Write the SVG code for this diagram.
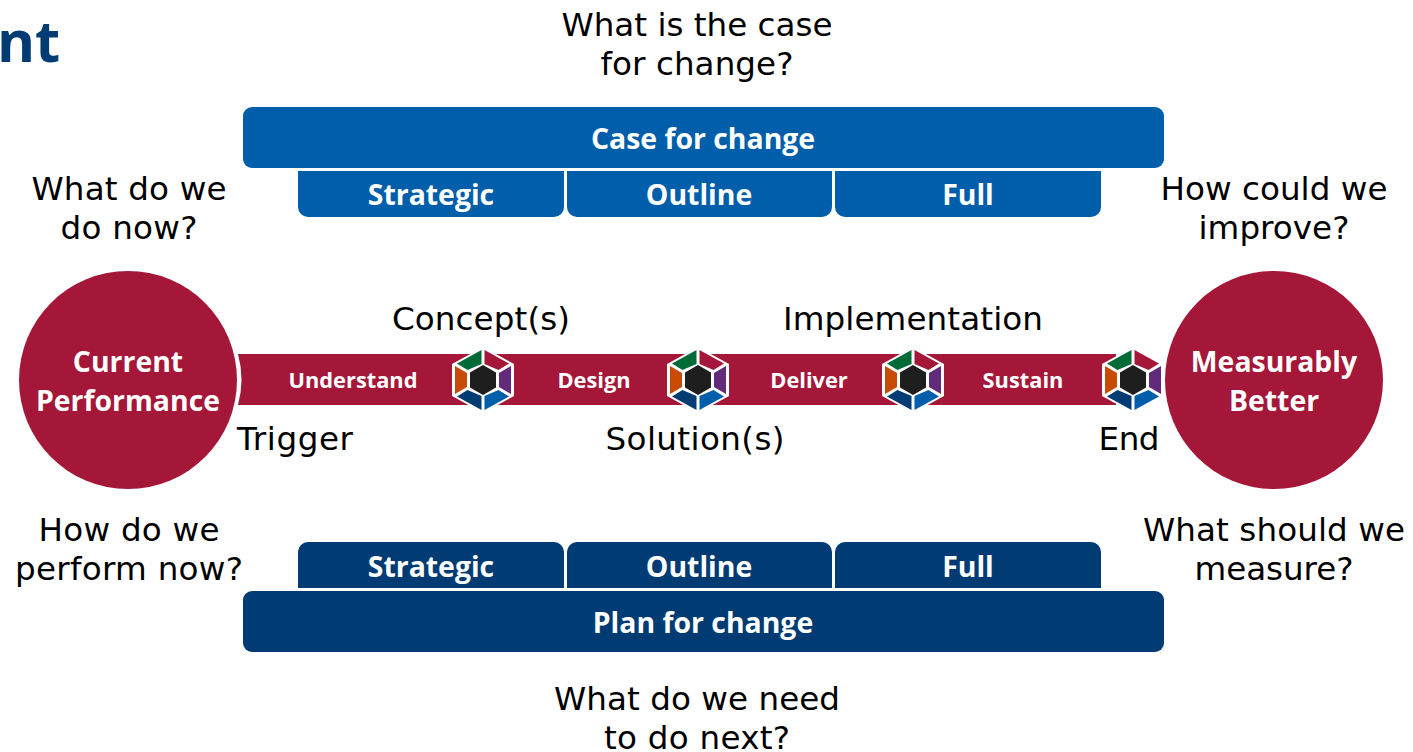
<svg xmlns="http://www.w3.org/2000/svg" xmlns:xlink="http://www.w3.org/1999/xlink" width="1413" height="752" viewBox="0 0 1413 752">
<style>
.q{font-family:"DejaVu Sans",Verdana,sans-serif;font-size:32.6px;fill:#000;text-anchor:middle}
.b{font-family:"Open Sans","Noto Sans",sans-serif;font-weight:700;fill:#fff;text-anchor:middle}
.l{font-size:28.4px}.m{font-size:21.8px}
.blue{fill:#005EAB}.navy{fill:#003B73}.red{fill:#A51739}
</style>
<defs>
<g id="hex">
<polygon points="0,-33 31,-16 31,16 0,33 -31,16 -31,-16" fill="#fff"/>
<polygon points="1.5,-30 26,-16.5 15.5,-10 1.5,-16" fill="#A51739"/>
<polygon points="-1.5,-30 -26,-16.5 -15.5,-10 -1.5,-16" fill="#006B37"/>
<polygon points="16,-7 28,-14 28,14 16,7" fill="#622A7A"/>
<polygon points="-16,-7 -28,-14 -28,14 -16,7" fill="#C84B05"/>
<polygon points="1.5,30 26,16.5 15.5,10 1.5,16" fill="#005EAB"/>
<polygon points="-1.5,30 -26,16.5 -15.5,10 -1.5,16" fill="#003B73"/>
<polygon points="0,-15 13,-7.5 13,7.5 0,15 -13,7.5 -13,-7.5" fill="#1E1E1E"/>
</g>
</defs>
<text id="title" x="-3" y="62" font-family="Open Sans" font-weight="700" font-size="58" fill="#003B73">nt</text>
<g id="connectors">
<path id="strip" class="red" d="M238,354 H1116 V405 H238 Q245,380 238,354 Z"/>
</g>
<g id="case-for-change">
<rect class="blue" x="243" y="107" width="921" height="61" rx="9"/>
<text class="b l" x="703" y="149">Case for change</text>
</g>
<g id="case-strategic">
<path class="blue" d="M298,171 H564 V207 a10,10 0 0 1 -10,10 H308 a10,10 0 0 1 -10,-10 Z"/>
<text class="b l" x="431" y="205">Strategic</text>
</g>
<g id="case-outline">
<path class="blue" d="M567,171 H832 V207 a10,10 0 0 1 -10,10 H577 a10,10 0 0 1 -10,-10 Z"/>
<text class="b l" x="699" y="205">Outline</text>
</g>
<g id="case-full">
<path class="blue" d="M835,171 H1101 V207 a10,10 0 0 1 -10,10 H845 a10,10 0 0 1 -10,-10 Z"/>
<text class="b l" x="968" y="205">Full</text>
</g>
<g id="plan-strategic">
<path class="navy" d="M298,588 H564 V552 a10,10 0 0 0 -10,-10 H308 a10,10 0 0 0 -10,10 Z"/>
<text class="b l" x="431" y="577">Strategic</text>
</g>
<g id="plan-outline">
<path class="navy" d="M567,588 H832 V552 a10,10 0 0 0 -10,-10 H577 a10,10 0 0 0 -10,10 Z"/>
<text class="b l" x="699" y="577">Outline</text>
</g>
<g id="plan-full">
<path class="navy" d="M835,588 H1101 V552 a10,10 0 0 0 -10,-10 H845 a10,10 0 0 0 -10,10 Z"/>
<text class="b l" x="968" y="577">Full</text>
</g>
<g id="plan-for-change">
<rect class="navy" x="243" y="591" width="921" height="61" rx="9"/>
<text class="b l" x="703" y="633">Plan for change</text>
</g>
<g id="current-performance">
<circle class="red" cx="128" cy="380" r="109"/>
<text class="b l" x="128" y="372">Current</text>
<text class="b l" x="128" y="411">Performance</text>
</g>
<g id="measurably-better">
<circle class="red" cx="1274" cy="380" r="109"/>
<text class="b l" x="1274" y="372">Measurably</text>
<text class="b l" x="1274" y="411">Better</text>
</g>
<g id="phase-understand"><text class="b m" x="353" y="388">Understand</text></g>
<g id="phase-design"><text class="b m" x="594" y="388">Design</text></g>
<g id="phase-deliver"><text class="b m" x="809" y="388">Deliver</text></g>
<g id="phase-sustain"><text class="b m" x="1023" y="388">Sustain</text></g>
<g id="hex-1"><use href="#hex" x="483" y="380"/></g>
<g id="hex-2"><use href="#hex" x="698" y="380"/></g>
<g id="hex-3"><use href="#hex" x="913" y="380"/></g>
<g id="hex-4"><use href="#hex" x="1133" y="380"/></g>
<g id="questions">
<text class="q" x="697" y="36" textLength="271">What is the case</text>
<text class="q" x="697" y="75" textLength="193">for change?</text>
<text class="q" x="129" y="200" textLength="195">What do we</text>
<text class="q" x="129" y="239" textLength="137">do now?</text>
<text class="q" x="1274" y="200" textLength="227">How could we</text>
<text class="q" x="1274" y="239" textLength="151">improve?</text>
<text class="q" x="129" y="541" textLength="181">How do we</text>
<text class="q" x="129" y="580" textLength="228">perform now?</text>
<text class="q" x="1274" y="541" textLength="262">What should we</text>
<text class="q" x="1274" y="580" textLength="159">measure?</text>
<text class="q" x="697" y="710" textLength="286">What do we need</text>
<text class="q" x="697" y="749" textLength="186">to do next?</text>
<text class="q" x="481" y="330" textLength="178">Concept(s)</text>
<text class="q" x="913" y="330" textLength="260">Implementation</text>
<text class="q" x="295" y="450" textLength="116">Trigger</text>
<text class="q" x="695" y="450" textLength="179">Solution(s)</text>
<text class="q" x="1129" y="450" textLength="61">End</text>
</g>
</svg>
